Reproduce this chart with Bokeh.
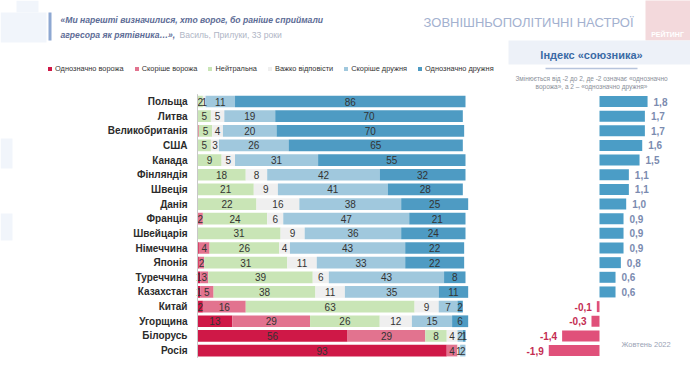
from bokeh.plotting import figure
from bokeh.models import Range1d, ColumnDataSource, Legend, LegendItem, Label
from bokeh.core.properties import value
from bokeh.embed import file_html
from bokeh.resources import INLINE

# ---------------- data ----------------
countries = ["Польща", "Литва", "Великобританія", "США", "Канада", "Фінляндія",
             "Швеція", "Данія", "Франція", "Швейцарія", "Німеччина", "Японія",
             "Туреччина", "Казахстан", "Китай", "Угорщина", "Білорусь", "Росія"]
categories = ["Однозначно ворожа", "Скоріше ворожа", "Нейтральна",
              "Важко відповісти", "Скоріше дружня", "Однозначно дружня"]
definitely_hostile = [0, 0, 0, 0, 0, 0, 0, 0, 0, 0, 0.5, 0.5, 1, 1, 2, 13, 56, 93]
rather_hostile = [0, 0, 0.5, 0, 0, 0, 0, 0, 2, 0, 4, 2, 3, 5, 16, 29, 29, 4]
neutral = [2, 5, 5, 5, 9, 18, 21, 22, 24, 31, 26, 31, 39, 38, 63, 26, 8, 0]
hard_to_say = [1, 5, 4, 3, 5, 8, 9, 16, 6, 9, 4, 11, 6, 11, 9, 12, 4, 1]
rather_friendly = [11, 19, 20, 26, 31, 42, 41, 38, 47, 36, 43, 33, 43, 35, 7, 15, 2, 2]
definitely_friendly = [86, 70, 70, 65, 55, 32, 28, 25, 21, 24, 22, 22, 8, 11, 2, 6, 1, 0]
ally_index = [1.8, 1.7, 1.7, 1.6, 1.5, 1.1, 1.1, 1.0, 0.9, 0.9, 0.9, 0.8,
              0.6, 0.6, -0.1, -0.3, -1.4, -1.9]

# ---------------- style / layout ----------------
colors = ["#cf1847", "#e2738f", "#c9e5b6", "#efefef", "#a0c8dd", "#4e9bc3"]
POS_C, NEG_C = "#4b9dc6", "#e0507a"
FN = "Liberation Sans"
W, H = 690, 370
X0, KX = 197, 2.68      # main chart: pixel of 0, px per %
IX0, IKX = 599, 26.7    # index panel: pixel of 0, px per unit
Y0, KY = 101, 14.65     # first row pixel, px per row


def mx(px):
    return (px - X0) / KX


def my(py):
    return (py - Y0) / KY


n = len(countries)
rows = list(range(n))

p = figure(width=W, height=H, output_backend="svg", toolbar_location=None, tools="",
           title=None, x_range=Range1d(mx(0), mx(W)), y_range=Range1d(my(H), my(0)),
           min_border=0, x_axis_location=None, y_axis_location=None,
           outline_line_color=None, background_fill_color="white",
           border_fill_color="white")
p.grid.visible = False
p.extra_x_ranges = {"idx": Range1d(-IX0 / IKX, (W - IX0) / IKX)}

# faint background decorations
p.quad(left=[mx(0), mx(16)], right=[mx(46), mx(38)], top=[my(12), my(0)],
       bottom=[my(42), my(12)], color="#f1f5fb", line_color=None)
p.quad(left=mx(0), right=mx(12), top=my(138), bottom=my(168), color="#f1f5fb", line_color=None)
p.quad(left=mx(0), right=mx(12), top=my(213), bottom=my(240), color="#f1f5fb", line_color=None)

# quote
p.quad(left=mx(48), right=mx(51), top=my(12), bottom=my(40), color="#8ea8d2", line_color=None)
p.add_layout(Label(x=mx(60), y=my(19), text="«Ми нарешті визначилися, хто ворог, бо раніше сприймали",
                   text_font=FN, text_font_style="bold italic", text_font_size="8.6px",
                   text_color="#5d6c96", text_baseline="middle"))
p.add_layout(Label(x=mx(60), y=my(34), text="агресора як рятівника…»,",
                   text_font=FN, text_font_style="bold italic", text_font_size="8.6px",
                   text_color="#5d6c96", text_baseline="middle"))
p.add_layout(Label(x=mx(179), y=my(34), text="Василь, Прилуки, 33 роки",
                   text_font=FN, text_font_size="8.6px",
                   text_color="#b0b6c6", text_baseline="middle"))

# title and logo
p.add_layout(Label(x=mx(633), y=my(22), text="ЗОВНІШНЬОПОЛІТИЧНІ НАСТРОЇ",
                   text_font=FN, text_font_size="13px", text_color="#a3b1cf",
                   text_align="right", text_baseline="middle"))
p.quad(left=mx(645), right=mx(692), top=my(-2), bottom=my(40), color="#f3d9dc", line_color=None)
p.add_layout(Label(x=mx(667), y=my(34), text="РЕЙТИНГ", text_font=FN,
                   text_font_style="bold", text_font_size="7px", text_color="white",
                   text_align="center", text_baseline="middle"))

# ---------------- stacked bars ----------------
series = [definitely_hostile, rather_hostile, neutral, hard_to_say,
          rather_friendly, definitely_friendly]
left = [0.0] * n
renderers = []
lx, ly, lt = [], [], []
for vals, col in zip(series, colors):
    right = [a + b for a, b in zip(left, vals)]
    src = ColumnDataSource(dict(y=rows, left=left, right=right))
    r = p.hbar(y="y", left="left", right="right", height=0.8, color=col,
               line_color=None, source=src)
    renderers.append(r)
    for i, v in enumerate(vals):
        if v >= 1:
            lx.append((left[i] + right[i]) / 2)
            ly.append(i)
            lt.append(str(int(v)))
    left = right

p.text(x=lx, y=ly, text=lt, text_align="center", text_baseline="middle",
       text_font=value(FN), text_font_size="10px", text_color="#333333")

p.segment(x0=0, y0=-0.5, x1=0, y1=n - 0.5, line_color="#c8c8c8", line_width=1)

# country names
p.text(x=[0] * n, y=rows, text=countries, x_offset=-10, text_align="right",
       text_baseline="middle", text_font=value(FN), text_font_style="bold",
       text_font_size="10px", text_color="#2b2b2b")

legend = Legend(items=[LegendItem(label=c, renderers=[r]) for c, r in zip(categories, renderers)],
                orientation="horizontal", location=(47, H - 73), glyph_width=5, glyph_height=5,
                label_standoff=3, spacing=10, padding=0, margin=0, border_line_color=None,
                background_fill_alpha=0, label_text_font_size="7.4px", label_height=10,
                label_text_font=FN, label_text_color="#333333")
p.add_layout(legend)

# ---------------- index panel ----------------
p.quad(left=mx(508), right=mx(692), top=my(40), bottom=my(64), color="#edf1f8", line_color=None)
p.add_layout(Label(x=mx(591), y=my(54), text="Індекс «союзника»", text_font=FN,
                   text_font_style="bold", text_font_size="11px", text_color="#3a6aa5",
                   text_align="center", text_baseline="middle"))
p.segment(x0=mx(545), y0=my(68), x1=mx(637), y1=my(68), line_color="#b7c4dc", line_width=1.5)
p.add_layout(Label(x=mx(591), y=my(78), text="Змінюється від -2 до 2, де -2 означає «однозначно",
                   text_font=FN, text_font_size="6.5px", text_color="#8a8f99",
                   text_align="center", text_baseline="middle"))
p.add_layout(Label(x=mx(591), y=my(86), text="ворожа», а 2 – «однозначно дружня»",
                   text_font=FN, text_font_size="6.5px", text_color="#8a8f99",
                   text_align="center", text_baseline="middle"))

idx_colors = [POS_C if v >= 0 else NEG_C for v in ally_index]
p.hbar(y=rows, left=0, right=ally_index, height=0.75, color=idx_colors,
       line_color=None, x_range_name="idx")

pos_i = [i for i, v in enumerate(ally_index) if v >= 0]
neg_i = [i for i, v in enumerate(ally_index) if v < 0]
fmt = lambda v: f"{v:.1f}".replace(".", ",")
p.text(x=[ally_index[i] for i in pos_i], y=pos_i, text=[fmt(ally_index[i]) for i in pos_i],
       x_range_name="idx", x_offset=6, text_align="left", text_baseline="middle",
       text_font=value(FN), text_font_style="bold", text_font_size="10px", text_color="#7b8bb0")
p.text(x=[ally_index[i] for i in neg_i], y=neg_i, text=[fmt(ally_index[i]) for i in neg_i],
       x_range_name="idx", x_offset=-5, text_align="right", text_baseline="middle",
       text_font=value(FN), text_font_style="bold", text_font_size="10px", text_color="#c42d52")

p.add_layout(Label(x=mx(621), y=my(344), text="Жовтень 2022", text_font=FN,
                   text_font_size="7.5px", text_color="#9aa3b5", text_baseline="middle"))

open("out.html", "w").write(file_html(p, INLINE))
